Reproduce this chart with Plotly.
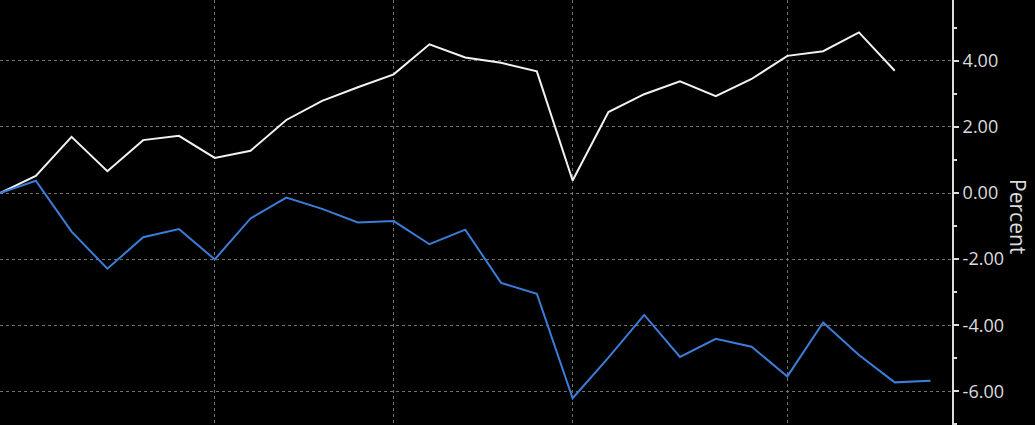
import plotly.graph_objects as go

# observation index (evenly spaced periods)
white_vals = [0.00, 0.52, 1.70, 0.66, 1.60, 1.73, 1.06, 1.28, 2.21, 2.79, 3.20, 3.59, 4.50,
              4.10, 3.94, 3.68, 0.38, 2.45, 2.99, 3.38, 2.93, 3.45, 4.15, 4.29, 4.86, 3.70]
blue_vals = [0.00, 0.37, -1.17, -2.29, -1.34, -1.09, -2.01, -0.77, -0.14, -0.48, -0.89, -0.85,
             -1.55, -1.11, -2.72, -3.05, -6.21, -4.98, -3.69, -4.96, -4.41, -4.65, -5.55,
             -3.92, -4.90, -5.73, -5.68]
x_white = list(range(len(white_vals)))
x_blue = list(range(len(blue_vals)))

x_grid = [0, 6, 11, 16, 22]
y_ticks = [-6, -4, -2, 0, 2, 4]
y_ticktext = ['%.2f' % v for v in y_ticks]

fig = go.Figure()
fig.add_trace(go.Scatter(x=x_white, y=white_vals, mode='lines',
                         line=dict(color='#f2f2f2', width=2), showlegend=False))
fig.add_trace(go.Scatter(x=x_blue, y=blue_vals, mode='lines',
                         line=dict(color='#3b7dd8', width=2), showlegend=False))

fig.update_layout(
    width=1035, height=425,
    paper_bgcolor='black', plot_bgcolor='black',
    margin=dict(l=0, r=83, t=0, b=0),
    font=dict(family='Open Sans, Arial', color='#dcdcdc', size=18),
    xaxis=dict(
        range=[0, 26.6],
        tickvals=x_grid, showticklabels=False, ticks='',
        showgrid=True, gridcolor='#707070', griddash='dot', gridwidth=1,
        zeroline=False, showline=False,
    ),
    yaxis=dict(
        range=[-7.02, 5.84], side='right',
        tickvals=y_ticks, ticktext=y_ticktext,
        ticks='outside', ticklen=5, tickwidth=2, tickcolor='#dcdcdc',
        showline=True, linecolor='#dcdcdc', linewidth=2,
        showgrid=True, gridcolor='#707070', griddash='dot', gridwidth=1,
        zeroline=False,
        minor=dict(dtick=1, tick0=1, ticks='outside', ticklen=3, tickcolor='#dcdcdc', showgrid=False),
    ),
    annotations=[dict(
        text='Percent', textangle=90, showarrow=False,
        xref='paper', yref='paper', x=1.070, y=0.49,
        xanchor='center', yanchor='middle',
        font=dict(size=21, color='#dcdcdc'),
    )],
)

fig.write_html("out.html", config={'displayModeBar': False},
               post_script="document.body.style.margin='0';")
